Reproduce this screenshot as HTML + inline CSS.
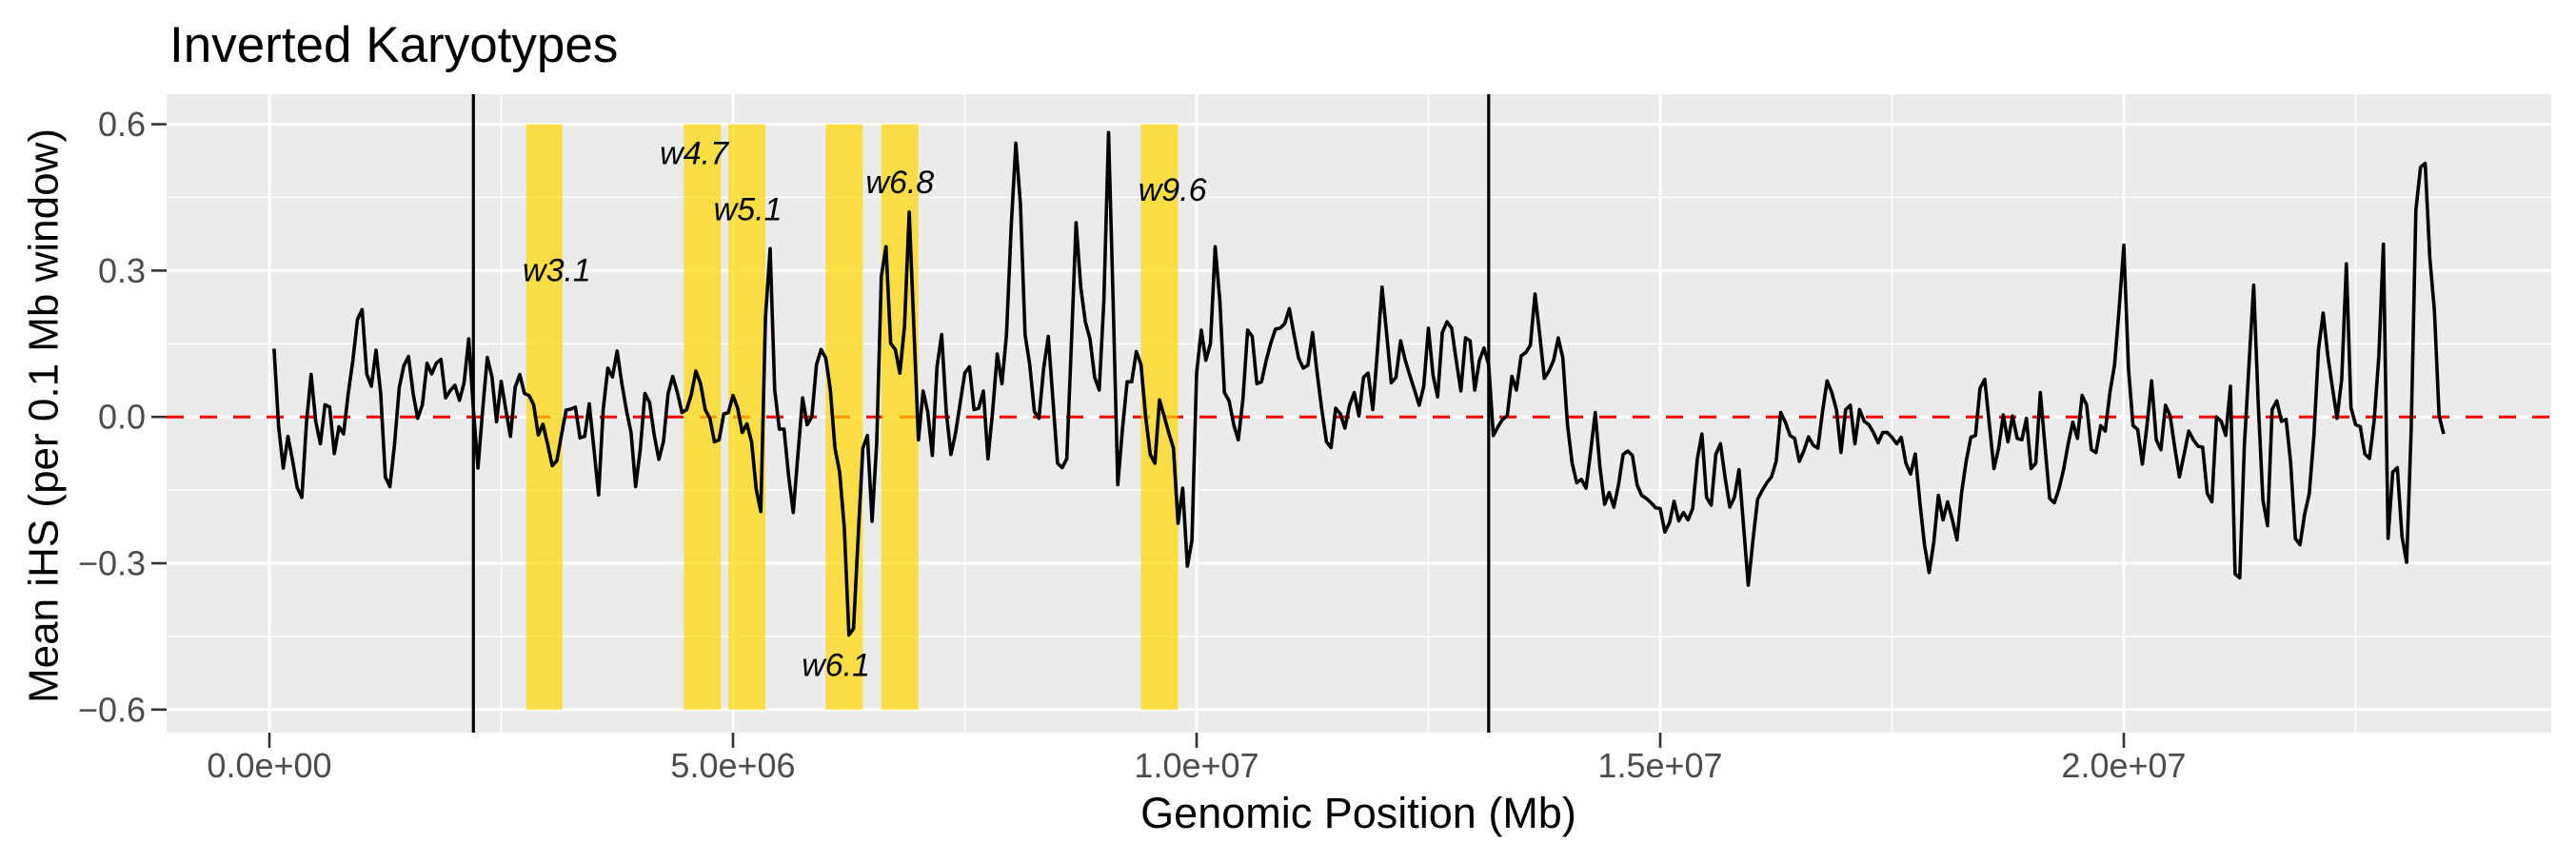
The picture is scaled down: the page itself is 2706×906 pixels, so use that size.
<!DOCTYPE html>
<html><head><meta charset="utf-8"><style>
html,body{margin:0;padding:0;background:#fff;}
svg{display:block;font-family:"Liberation Sans",Arial,sans-serif;}
</style></head><body>
<svg id="chart" width="2706" height="906" viewBox="0 0 2706 906" xmlns="http://www.w3.org/2000/svg">
<text x="178" y="65" font-size="53" fill="#000">Inverted Karyotypes</text>
<rect x="175" y="99" width="2505" height="671" fill="#ebebeb"/>
<g id="grid"></g>
<g id="refs"></g>
<g id="bands"></g>
<g id="series"></g>
<g id="labels"></g>
<g id="axes"></g>
<text x="1427" y="870" font-size="45" text-anchor="middle" fill="#000">Genomic Position (Mb)</text>
<text transform="translate(46,437) rotate(-90)" font-size="44" text-anchor="middle" dominant-baseline="central" fill="#000">Mean iHS (per 0.1 Mb window)</text>
</svg>
<script>
const xStartMb = 0.05;
const xStepMb = 0.05;
const ihsValues = [
0.14,-0.02,-0.105,-0.04,-0.09,-0.145,-0.165,-0.01,0.087,-0.01,
-0.055,0.025,0.02,-0.075,-0.02,-0.035,0.048,0.116,0.20,0.22,
0.088,0.063,0.137,0.048,-0.123,-0.143,-0.055,0.06,0.105,0.124,
0.048,-0.003,0.025,0.11,0.088,0.11,0.118,0.039,0.054,0.065,
0.034,0.07,0.16,0.014,-0.105,0.014,0.122,0.082,-0.01,0.073,
0.014,-0.04,0.06,0.087,0.048,0.044,0.025,-0.037,-0.015,-0.055,
-0.1,-0.09,-0.037,0.014,0.016,0.02,-0.043,-0.04,0.027,-0.066,
-0.16,0.014,0.1,0.082,0.135,0.07,0.014,-0.032,-0.143,-0.066,
0.048,0.03,-0.037,-0.087,
-0.05,0.048,0.083,0.05,0.009,0.015,0.046,0.094,0.068,0.015,
-0.003,-0.051,-0.047,0.006,0.009,0.044,0.018,-0.032,-0.014,-0.051,
-0.148,-0.194,0.204,0.345,0.055,-0.025,-0.025,-0.121,-0.196,-0.077,
0.039,-0.016,0,0.107,0.138,0.121,0.055,-0.064,-0.113,-0.227,
-0.447,-0.434,-0.245,-0.064,-0.038,-0.214,-0.051,0.288,0.349,0.151,
0.138,0.09,0.187,0.42,0.187,-0.047,0.053,0.011,-0.079,0.103,
0.169,0.011,-0.077,-0.033,0.028,0.09,0.103,0.015,0.018,0.053,
-0.086,0.011,0.129,0.068,0.169,0.389,0.561,0.437,0.169,0.107,
0.011,-0.003,0.099,0.165,
0.037,-0.095,-0.104,-0.086,0.151,0.398,0.266,0.195,0.16,0.081,
0.055,0.239,0.583,0.239,-0.139,-0.025,0.072,0.072,0.134,0.107,
0.002,-0.077,-0.095,0.035,0.002,-0.033,-0.064,-0.218,-0.146,-0.306,
-0.253,0.09,0.178,0.116,0.151,0.349,0.239,0.05,0.033,-0.016,
-0.047,0.037,0.178,0.165,0.068,0.072,0.116,0.151,0.18,0.182,
0.191,0.222,0.169,0.121,0.1,0.106,0.173,0.09,0.015,-0.051,
-0.063,0.018,0.006,-0.023,0.024,0.05,0.002,0.081,0.09,0.015,
0.134,0.266,0.169,0.07,0.081,0.156,0.116,0.085,0.055,0.024,
0.063,0.182,0.085,0.041,0.173,
0.195,0.182,0.116,0.053,0.162,0.156,0.055,0.116,0.141,0.107,
-0.038,-0.02,-0.005,0.002,0.083,0.055,0.125,0.132,0.147,0.252,
0.169,0.079,0.094,0.116,0.162,0.121,-0.016,-0.095,-0.135,-0.128,
-0.146,-0.069,0.009,-0.104,-0.179,-0.155,-0.185,-0.139,-0.077,-0.07,
-0.079,-0.139,-0.161,-0.167,-0.176,-0.186,-0.188,-0.236,-0.217,-0.173,
-0.213,-0.196,-0.211,-0.188,-0.086,-0.035,-0.165,-0.181,-0.077,-0.055,
-0.125,-0.185,-0.165,-0.108,-0.227,-0.345,-0.253,-0.169,-0.151,-0.135,
-0.123,-0.091,0.009,-0.011,-0.038,-0.044,-0.091,-0.069,-0.041,-0.058,
-0.064,0.011,0.074,0.05,
0.015,-0.073,0.015,0.024,-0.055,0.015,-0.009,-0.016,-0.032,-0.053,
-0.032,-0.032,-0.042,-0.055,-0.042,-0.095,-0.117,-0.076,-0.174,-0.262,
-0.319,-0.258,-0.161,-0.211,-0.174,-0.21,-0.252,-0.155,-0.091,-0.042,
-0.038,0.059,0.077,-0.016,-0.106,-0.064,0.004,-0.051,0.002,-0.044,
-0.047,-0.003,-0.106,-0.095,0.05,-0.06,-0.167,-0.176,-0.148,-0.108,
-0.055,-0.011,-0.044,0.044,0.024,-0.067,-0.073,-0.018,-0.029,0.05,
0.107,0.222,0.352,0.099,-0.018,-0.026,-0.097,-0.016,0.074,-0.047,
-0.067,0.024,0.002,-0.064,-0.123,-0.077,-0.029,-0.047,-0.06,
-0.062,-0.157,-0.174,0,-0.009,-0.038,0.063,-0.322,-0.33,-0.06,
0.107,0.27,0.028,-0.17,-0.223,0.015,0.033,-0.009,-0.005,-0.095,
-0.249,-0.262,-0.2,-0.157,-0.038,0.138,0.213,0.125,0.059,-0.003,
0.077,0.314,0.019,-0.016,-0.02,-0.076,-0.085,-0.007,0.125,0.354,
-0.249,-0.113,-0.104,-0.245,-0.298,-0.025,0.424,0.512,0.52,0.327,
0.217,0.002,-0.035
];
const bandStartMb = [2.77, 4.47, 4.95, 6.0, 6.6, 9.4];
const bandEndMb = [3.16, 4.87, 5.35, 6.4, 7.0, 9.8];
const bandTop = 0.6;
const bandBottom = -0.6;
const breakpointMb = [2.2, 13.15];
const labelNames = ["w3.1","w4.7","w5.1","w6.1","w6.8","w9.6"];
const labelXMb = [3.1, 4.58, 5.16, 6.11, 6.8, 9.74];
const labelY = [0.3, 0.54, 0.425, -0.51, 0.48, 0.465];
const yTicks = [-0.6, -0.3, 0, 0.3, 0.6];
const yTickLabels = ["\u22120.6","\u22120.3","0.0","0.3","0.6"];
const yMinor = [-0.45, -0.15, 0.15, 0.45];
const xTicksMb = [0, 5, 10, 15, 20];
const xTickLabels = ["0.0e+00","5.0e+06","1.0e+07","1.5e+07","2.0e+07"];
const xMinorMb = [2.5, 7.5, 12.5, 17.5, 22.5];

const NS = "http://www.w3.org/2000/svg";
const PL = 175, PR = 2680, PT = 99, PB = 770;
function xs(mb){ return 283 + mb * 97.4; }
function ys(v){ return 438.2 - v * 512.7; }
function mk(tag, attrs, parent){
  const e = document.createElementNS(NS, tag);
  for (const k in attrs) e.setAttribute(k, attrs[k]);
  parent.appendChild(e);
  return e;
}
const grid = document.getElementById('grid');
yMinor.forEach(v => {
  const l = mk('line', {x1:PL, x2:PR, y1:ys(v), y2:ys(v), stroke:'#fff', 'stroke-width':1.3}, grid);
  
  
});
xMinorMb.forEach(m => {
  const l = mk('line', {x1:xs(m), x2:xs(m), y1:PT, y2:PB, stroke:'#fff', 'stroke-width':1.3}, grid);
  
  
});
yTicks.forEach(v => {
  const l = mk('line', {x1:PL, x2:PR, y1:ys(v), y2:ys(v), stroke:'#fff', 'stroke-width':2.8}, grid);
  
  
});
xTicksMb.forEach(m => {
  const l = mk('line', {x1:xs(m), x2:xs(m), y1:PT, y2:PB, stroke:'#fff', 'stroke-width':2.8}, grid);
  
  
});
const refs = document.getElementById('refs');
const zl = mk('line', {x1:PL, x2:PR, y1:ys(0), y2:ys(0), stroke:'#ff0000', 'stroke-width':3, 'stroke-dasharray':'18 17'}, refs);


breakpointMb.forEach(m => {
  const l = mk('line', {x1:xs(m), x2:xs(m), y1:PT, y2:PB, stroke:'#000', 'stroke-width':3.2}, refs);
  
  
});
const bands = document.getElementById('bands');
bandStartMb.forEach((s, i) => {
  const r = mk('rect', {x:xs(s), y:ys(bandTop), width:xs(bandEndMb[i]) - xs(s), height:ys(bandBottom) - ys(bandTop), fill:'#FFD700', 'fill-opacity':0.7}, bands);
  
  
});
const series = document.getElementById('series');
const pts = ihsValues.map((v, i) => xs(xStartMb + i * xStepMb).toFixed(1) + ',' + ys(v).toFixed(1)).join(' ');
const pl = mk('polyline', {points:pts, fill:'none', stroke:'#000', 'stroke-width':3.6, 'stroke-linejoin':'round'}, series);


const labels = document.getElementById('labels');
labelNames.forEach((n, i) => {
  const t = mk('text', {x:xs(labelXMb[i]), y:ys(labelY[i]), 'font-size':34, 'font-style':'italic', 'text-anchor':'middle', 'dominant-baseline':'central', fill:'#000'}, labels);
  t.textContent = n;
  
  
});
const axes = document.getElementById('axes');
yTicks.forEach((v, i) => {
  const tk = mk('line', {x1:159, x2:175, y1:ys(v), y2:ys(v), stroke:'#333', 'stroke-width':2.6}, axes);
  
  
  const t = mk('text', {x:153, y:ys(v), 'font-size':36, 'text-anchor':'end', 'dominant-baseline':'central', fill:'#4d4d4d'}, axes);
  t.textContent = yTickLabels[i];
  
  
});
xTicksMb.forEach((m, i) => {
  const tk = mk('line', {x1:xs(m), x2:xs(m), y1:770, y2:786, stroke:'#333', 'stroke-width':2.6}, axes);
  
  
  const t = mk('text', {x:xs(m), y:817, 'font-size':36, 'text-anchor':'middle', fill:'#4d4d4d'}, axes);
  t.textContent = xTickLabels[i];
  
  
});
</script>
</body></html>
